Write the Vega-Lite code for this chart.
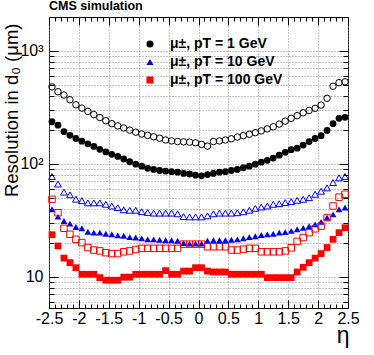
{
  "$schema": "https://vega.github.io/schema/vega-lite/v6.json",
  "width": 299,
  "height": 291,
  "autosize": {"type": "none"},
  "padding": {"left": 49, "top": 17, "right": 26, "bottom": 47},
  "background": "white",
  "title": {"text": "CMS simulation", "anchor": "start", "frame": "group", "font": "Liberation Sans", "fontSize": 12.5, "fontWeight": "bold", "color": "black", "offset": 4},
  "config": {"view": {"stroke": "black", "strokeWidth": 1}},
  "datasets": {
    "pts": [
{"s":"fc","eta":-2.45,"res":235},{"s":"fc","eta":-2.35,"res":219},{"s":"fc","eta":-2.25,"res":192},{"s":"fc","eta":-2.15,"res":178},{"s":"fc","eta":-2.05,"res":167},{"s":"fc","eta":-1.95,"res":158},{"s":"fc","eta":-1.85,"res":150},{"s":"fc","eta":-1.75,"res":142},{"s":"fc","eta":-1.65,"res":134},{"s":"fc","eta":-1.55,"res":127},{"s":"fc","eta":-1.45,"res":121},{"s":"fc","eta":-1.35,"res":116},{"s":"fc","eta":-1.25,"res":110},{"s":"fc","eta":-1.15,"res":104},{"s":"fc","eta":-1.05,"res":99},{"s":"fc","eta":-0.95,"res":95},{"s":"fc","eta":-0.85,"res":91},{"s":"fc","eta":-0.75,"res":89},{"s":"fc","eta":-0.65,"res":87},{"s":"fc","eta":-0.55,"res":86},{"s":"fc","eta":-0.45,"res":85},{"s":"fc","eta":-0.35,"res":84},{"s":"fc","eta":-0.25,"res":82},{"s":"fc","eta":-0.15,"res":81},{"s":"fc","eta":-0.05,"res":79},
{"s":"fc","eta":0.05,"res":78},{"s":"fc","eta":0.15,"res":80},{"s":"fc","eta":0.25,"res":82},{"s":"fc","eta":0.35,"res":84},{"s":"fc","eta":0.45,"res":85},{"s":"fc","eta":0.55,"res":87},{"s":"fc","eta":0.65,"res":89},{"s":"fc","eta":0.75,"res":92},{"s":"fc","eta":0.85,"res":95},{"s":"fc","eta":0.95,"res":99},{"s":"fc","eta":1.05,"res":103},{"s":"fc","eta":1.15,"res":107},{"s":"fc","eta":1.25,"res":112},{"s":"fc","eta":1.35,"res":119},{"s":"fc","eta":1.45,"res":126},{"s":"fc","eta":1.55,"res":133},{"s":"fc","eta":1.65,"res":137},{"s":"fc","eta":1.75,"res":146},{"s":"fc","eta":1.85,"res":157},{"s":"fc","eta":1.95,"res":167},{"s":"fc","eta":2.05,"res":177},{"s":"fc","eta":2.15,"res":197},{"s":"fc","eta":2.25,"res":226},{"s":"fc","eta":2.35,"res":252},{"s":"fc","eta":2.45,"res":257},
{"s":"oc","eta":-2.45,"res":478},{"s":"oc","eta":-2.35,"res":433},{"s":"oc","eta":-2.25,"res":405},{"s":"oc","eta":-2.15,"res":368},{"s":"oc","eta":-2.05,"res":332},{"s":"oc","eta":-1.95,"res":310},{"s":"oc","eta":-1.85,"res":290},{"s":"oc","eta":-1.75,"res":272},{"s":"oc","eta":-1.65,"res":256},{"s":"oc","eta":-1.55,"res":240},{"s":"oc","eta":-1.45,"res":226},{"s":"oc","eta":-1.35,"res":216},{"s":"oc","eta":-1.25,"res":207},{"s":"oc","eta":-1.15,"res":198},{"s":"oc","eta":-1.05,"res":190},{"s":"oc","eta":-0.95,"res":183},{"s":"oc","eta":-0.85,"res":178},{"s":"oc","eta":-0.75,"res":173},{"s":"oc","eta":-0.65,"res":168},{"s":"oc","eta":-0.55,"res":162},{"s":"oc","eta":-0.45,"res":159},{"s":"oc","eta":-0.35,"res":157},{"s":"oc","eta":-0.25,"res":156},{"s":"oc","eta":-0.15,"res":155},{"s":"oc","eta":-0.05,"res":153},
{"s":"oc","eta":0.05,"res":148},{"s":"oc","eta":0.15,"res":143},{"s":"oc","eta":0.25,"res":157},{"s":"oc","eta":0.35,"res":159},{"s":"oc","eta":0.45,"res":162},{"s":"oc","eta":0.55,"res":166},{"s":"oc","eta":0.65,"res":172},{"s":"oc","eta":0.75,"res":177},{"s":"oc","eta":0.85,"res":182},{"s":"oc","eta":0.95,"res":188},{"s":"oc","eta":1.05,"res":195},{"s":"oc","eta":1.15,"res":203},{"s":"oc","eta":1.25,"res":212},{"s":"oc","eta":1.35,"res":224},{"s":"oc","eta":1.45,"res":238},{"s":"oc","eta":1.55,"res":252},{"s":"oc","eta":1.65,"res":266},{"s":"oc","eta":1.75,"res":282},{"s":"oc","eta":1.85,"res":296},{"s":"oc","eta":1.95,"res":309},{"s":"oc","eta":2.05,"res":330},{"s":"oc","eta":2.15,"res":379},{"s":"oc","eta":2.25,"res":484},{"s":"oc","eta":2.35,"res":521},{"s":"oc","eta":2.45,"res":530},
{"s":"ft","eta":-2.45,"res":39.5},{"s":"ft","eta":-2.35,"res":34},{"s":"ft","eta":-2.25,"res":31.1},{"s":"ft","eta":-2.15,"res":29.5},{"s":"ft","eta":-2.05,"res":27.5},{"s":"ft","eta":-1.95,"res":26.8},{"s":"ft","eta":-1.85,"res":25},{"s":"ft","eta":-1.75,"res":24.5},{"s":"ft","eta":-1.65,"res":24.5},{"s":"ft","eta":-1.55,"res":24},{"s":"ft","eta":-1.45,"res":23.7},{"s":"ft","eta":-1.35,"res":23.2},{"s":"ft","eta":-1.25,"res":23},{"s":"ft","eta":-1.15,"res":22.4},{"s":"ft","eta":-1.05,"res":22.2},{"s":"ft","eta":-0.95,"res":21.8},{"s":"ft","eta":-0.85,"res":21.4},{"s":"ft","eta":-0.75,"res":21.4},{"s":"ft","eta":-0.65,"res":21.2},{"s":"ft","eta":-0.55,"res":21},{"s":"ft","eta":-0.45,"res":21},{"s":"ft","eta":-0.35,"res":20.8},{"s":"ft","eta":-0.25,"res":19.8},{"s":"ft","eta":-0.15,"res":19.6},{"s":"ft","eta":-0.05,"res":19.6},
{"s":"ft","eta":0.05,"res":19.6},{"s":"ft","eta":0.15,"res":20.8},{"s":"ft","eta":0.25,"res":21},{"s":"ft","eta":0.35,"res":21},{"s":"ft","eta":0.45,"res":21},{"s":"ft","eta":0.55,"res":21.2},{"s":"ft","eta":0.65,"res":21.4},{"s":"ft","eta":0.75,"res":21.9},{"s":"ft","eta":0.85,"res":22.4},{"s":"ft","eta":0.95,"res":22.8},{"s":"ft","eta":1.05,"res":23.4},{"s":"ft","eta":1.15,"res":23.7},{"s":"ft","eta":1.25,"res":24},{"s":"ft","eta":1.35,"res":24.5},{"s":"ft","eta":1.45,"res":24.8},{"s":"ft","eta":1.55,"res":25.4},{"s":"ft","eta":1.65,"res":26.3},{"s":"ft","eta":1.75,"res":27},{"s":"ft","eta":1.85,"res":28},{"s":"ft","eta":1.95,"res":29},{"s":"ft","eta":2.05,"res":30.5},{"s":"ft","eta":2.15,"res":33.3},{"s":"ft","eta":2.25,"res":35.6},{"s":"ft","eta":2.35,"res":39.5},{"s":"ft","eta":2.45,"res":40.8},
{"s":"ot","eta":-2.45,"res":77},{"s":"ot","eta":-2.35,"res":66},{"s":"ot","eta":-2.25,"res":56},{"s":"ot","eta":-2.15,"res":53},{"s":"ot","eta":-2.05,"res":48.5},{"s":"ot","eta":-1.95,"res":47},{"s":"ot","eta":-1.85,"res":45},{"s":"ot","eta":-1.75,"res":45},{"s":"ot","eta":-1.65,"res":45},{"s":"ot","eta":-1.55,"res":43.7},{"s":"ot","eta":-1.45,"res":42.2},{"s":"ot","eta":-1.35,"res":40.8},{"s":"ot","eta":-1.25,"res":39},{"s":"ot","eta":-1.15,"res":38.7},{"s":"ot","eta":-1.05,"res":38.7},{"s":"ot","eta":-0.95,"res":37.6},{"s":"ot","eta":-0.85,"res":37},{"s":"ot","eta":-0.75,"res":36.5},{"s":"ot","eta":-0.65,"res":36.5},{"s":"ot","eta":-0.55,"res":36.5},{"s":"ot","eta":-0.45,"res":36.5},{"s":"ot","eta":-0.35,"res":36},{"s":"ot","eta":-0.25,"res":34},{"s":"ot","eta":-0.15,"res":33.8},{"s":"ot","eta":-0.05,"res":33.8},
{"s":"ot","eta":0.05,"res":33.8},{"s":"ot","eta":0.15,"res":34.5},{"s":"ot","eta":0.25,"res":36},{"s":"ot","eta":0.35,"res":36.5},{"s":"ot","eta":0.45,"res":36.5},{"s":"ot","eta":0.55,"res":36.5},{"s":"ot","eta":0.65,"res":36.8},{"s":"ot","eta":0.75,"res":37.5},{"s":"ot","eta":0.85,"res":38.7},{"s":"ot","eta":0.95,"res":40.2},{"s":"ot","eta":1.05,"res":41.3},{"s":"ot","eta":1.15,"res":42.2},{"s":"ot","eta":1.25,"res":43.7},{"s":"ot","eta":1.35,"res":44.2},{"s":"ot","eta":1.45,"res":45.2},{"s":"ot","eta":1.55,"res":46.1},{"s":"ot","eta":1.65,"res":47.4},{"s":"ot","eta":1.75,"res":48.4},{"s":"ot","eta":1.85,"res":50},{"s":"ot","eta":1.95,"res":53.6},{"s":"ot","eta":2.05,"res":57},{"s":"ot","eta":2.15,"res":61},{"s":"ot","eta":2.25,"res":68},{"s":"ot","eta":2.35,"res":75},{"s":"ot","eta":2.45,"res":77},
{"s":"fs","eta":-2.45,"res":23.5},{"s":"fs","eta":-2.35,"res":18.7},{"s":"fs","eta":-2.25,"res":14.6},{"s":"fs","eta":-2.15,"res":13.3},{"s":"fs","eta":-2.05,"res":12},{"s":"fs","eta":-1.95,"res":10.5},{"s":"fs","eta":-1.85,"res":10.5},{"s":"fs","eta":-1.75,"res":10.5},{"s":"fs","eta":-1.65,"res":9.8},{"s":"fs","eta":-1.55,"res":9.3},{"s":"fs","eta":-1.45,"res":9.3},{"s":"fs","eta":-1.35,"res":9.3},{"s":"fs","eta":-1.25,"res":9.9},{"s":"fs","eta":-1.15,"res":9.9},{"s":"fs","eta":-1.05,"res":10.5},{"s":"fs","eta":-0.95,"res":10.5},{"s":"fs","eta":-0.85,"res":10.5},{"s":"fs","eta":-0.75,"res":10.5},{"s":"fs","eta":-0.65,"res":10.5},{"s":"fs","eta":-0.55,"res":11.3},{"s":"fs","eta":-0.45,"res":10.5},{"s":"fs","eta":-0.35,"res":10.5},{"s":"fs","eta":-0.25,"res":11.2},{"s":"fs","eta":-0.15,"res":11.2},{"s":"fs","eta":-0.05,"res":12},
{"s":"fs","eta":0.05,"res":12},{"s":"fs","eta":0.15,"res":11.2},{"s":"fs","eta":0.25,"res":11},{"s":"fs","eta":0.35,"res":11},{"s":"fs","eta":0.45,"res":11},{"s":"fs","eta":0.55,"res":10.5},{"s":"fs","eta":0.65,"res":10.5},{"s":"fs","eta":0.75,"res":10.5},{"s":"fs","eta":0.85,"res":10.5},{"s":"fs","eta":0.95,"res":10.5},{"s":"fs","eta":1.05,"res":10.5},{"s":"fs","eta":1.15,"res":9.8},{"s":"fs","eta":1.25,"res":9.8},{"s":"fs","eta":1.35,"res":9.8},{"s":"fs","eta":1.45,"res":9.8},{"s":"fs","eta":1.55,"res":9.8},{"s":"fs","eta":1.65,"res":11},{"s":"fs","eta":1.75,"res":12.1},{"s":"fs","eta":1.85,"res":13.3},{"s":"fs","eta":1.95,"res":14.6},{"s":"fs","eta":2.05,"res":16},{"s":"fs","eta":2.15,"res":18.1},{"s":"fs","eta":2.25,"res":21.4},{"s":"fs","eta":2.35,"res":24.5},{"s":"fs","eta":2.45,"res":27.1},
{"s":"os","eta":-2.45,"res":48.4},{"s":"os","eta":-2.35,"res":36.8},{"s":"os","eta":-2.25,"res":26.8},{"s":"os","eta":-2.15,"res":23.7},{"s":"os","eta":-2.05,"res":21.4},{"s":"os","eta":-1.95,"res":20},{"s":"os","eta":-1.85,"res":18.1},{"s":"os","eta":-1.75,"res":17.2},{"s":"os","eta":-1.65,"res":16.9},{"s":"os","eta":-1.55,"res":16.3},{"s":"os","eta":-1.45,"res":16},{"s":"os","eta":-1.35,"res":16},{"s":"os","eta":-1.25,"res":16.6},{"s":"os","eta":-1.15,"res":16.9},{"s":"os","eta":-1.05,"res":17.4},{"s":"os","eta":-0.95,"res":17.8},{"s":"os","eta":-0.85,"res":17.8},{"s":"os","eta":-0.75,"res":17.8},{"s":"os","eta":-0.65,"res":17.8},{"s":"os","eta":-0.55,"res":17.8},{"s":"os","eta":-0.45,"res":17.8},{"s":"os","eta":-0.35,"res":17.8},{"s":"os","eta":-0.25,"res":19.4},{"s":"os","eta":-0.15,"res":19.4},{"s":"os","eta":-0.05,"res":19.4},
{"s":"os","eta":0.05,"res":19.4},{"s":"os","eta":0.15,"res":18.4},{"s":"os","eta":0.25,"res":18.4},{"s":"os","eta":0.35,"res":18.4},{"s":"os","eta":0.45,"res":18.4},{"s":"os","eta":0.55,"res":17.2},{"s":"os","eta":0.65,"res":17.2},{"s":"os","eta":0.75,"res":17.5},{"s":"os","eta":0.85,"res":17.8},{"s":"os","eta":0.95,"res":17.8},{"s":"os","eta":1.05,"res":16.6},{"s":"os","eta":1.15,"res":16.6},{"s":"os","eta":1.25,"res":16.6},{"s":"os","eta":1.35,"res":16.6},{"s":"os","eta":1.45,"res":16.9},{"s":"os","eta":1.55,"res":18},{"s":"os","eta":1.65,"res":20.5},{"s":"os","eta":1.75,"res":22.2},{"s":"os","eta":1.85,"res":24.5},{"s":"os","eta":1.95,"res":26.5},{"s":"os","eta":2.05,"res":28},{"s":"os","eta":2.15,"res":33.3},{"s":"os","eta":2.25,"res":42.2},{"s":"os","eta":2.35,"res":50.5},{"s":"os","eta":2.45,"res":53.6}
    ]
  },
  "data": {"name": "pts"},
  "resolve": {"axis": {"x": "independent", "y": "independent"}},
  "layer": [
    {
      "transform": [{"filter": {"field": "s", "oneOf": ["fc", "ft", "fs"]}}],
      "mark": {"type": "point", "filled": true, "opacity": 1, "size": 46},
      "encoding": {
        "x": {"field": "eta", "type": "quantitative", "scale": {"domain": [-2.5, 2.5], "nice": false, "zero": false},
          "axis": {"orient": "bottom", "values": [-2.5, -2, -1.5, -1, -0.5, 0, 0.5, 1, 1.5, 2, 2.5], "labelExpr": "'' + datum.value", "tickSize": -8, "tickColor": "black", "grid": true, "gridDash": [1, 2], "gridColor": "#888", "domain": false, "labelFont": "Liberation Sans", "labelFontSize": 16, "labelColor": "black", "labelPadding": 10, "labelFlush": false, "labelOverlap": false, "labelBound": false, "title": "η", "titleFont": "Liberation Sans", "titleFontSize": 23, "titleFontWeight": "normal", "titleColor": "black", "titleAnchor": "end", "titleAlign": "right", "titleBaseline": "alphabetic", "titleX": 300, "titleY": 34}},
        "y": {"field": "res", "type": "quantitative", "scale": {"type": "log", "domain": [5.28, 1986], "nice": false},
          "axis": {"orient": "left", "values": [10, 100, 1000], "labelExpr": "datum.value == 10 ? '10' : datum.value == 100 ? '10²' : '10³'", "tickSize": -9, "tickColor": "black", "grid": true, "gridDash": [1, 2], "gridColor": "#888", "domain": false, "labelFont": "Liberation Sans", "labelFontSize": 16, "labelColor": "black", "labelPadding": 15, "labelOverlap": false, "title": "Resolution in d₀ (μm)", "titleFont": "Liberation Sans", "titleFontSize": 18.5, "titleFontWeight": "normal", "titleColor": "black", "titleAnchor": "end", "titlePadding": -2, "titleY": 6}},
        "color": {"field": "s", "type": "nominal", "scale": {"domain": ["fc", "ft", "fs"], "range": ["black", "blue", "red"]},
          "legend": {"orient": "none", "legendX": 94, "legendY": 20, "title": null, "padding": 0, "labelExpr": "datum.value == 'fc' ? 'μ±, pT = 1 GeV' : datum.value == 'ft' ? 'μ±, pT = 10 GeV' : 'μ±, pT = 100 GeV'", "labelFont": "Liberation Sans", "labelFontSize": 14, "labelFontWeight": "bold", "labelColor": "black", "symbolSize": 50, "rowPadding": 4, "labelOffset": 13, "symbolStrokeWidth": 0}},
        "shape": {"field": "s", "type": "nominal", "scale": {"domain": ["fc", "ft", "fs"], "range": ["circle", "triangle-up", "square"]},
          "legend": {"orient": "none", "legendX": 94, "legendY": 20, "title": null, "padding": 0, "labelExpr": "datum.value == 'fc' ? 'μ±, pT = 1 GeV' : datum.value == 'ft' ? 'μ±, pT = 10 GeV' : 'μ±, pT = 100 GeV'", "labelFont": "Liberation Sans", "labelFontSize": 14, "labelFontWeight": "bold", "labelColor": "black", "symbolSize": 50, "rowPadding": 4, "labelOffset": 13, "symbolStrokeWidth": 0}}
      }
    },
    {
      "transform": [{"filter": {"field": "s", "equal": "oc"}}],
      "mark": {"type": "point", "shape": "circle", "filled": false, "opacity": 1, "stroke": "black", "strokeWidth": 1, "size": 42},
      "encoding": {
        "x": {"field": "eta", "type": "quantitative", "scale": {"domain": [-2.5, 2.5], "nice": false, "zero": false},
          "axis": {"orient": "bottom", "values": [-2.4,-2.3,-2.2,-2.1,-1.9,-1.8,-1.7,-1.6,-1.4,-1.3,-1.2,-1.1,-0.9,-0.8,-0.7,-0.6,-0.4,-0.3,-0.2,-0.1,0.1,0.2,0.3,0.4,0.6,0.7,0.8,0.9,1.1,1.2,1.3,1.4,1.6,1.7,1.8,1.9,2.1,2.2,2.3,2.4], "labels": false, "tickSize": -4, "tickColor": "black", "grid": false, "domain": false, "title": null}},
        "y": {"field": "res", "type": "quantitative", "scale": {"type": "log", "domain": [5.28, 1986], "nice": false},
          "axis": {"orient": "left", "values": [6,7,8,9,20,30,40,50,60,70,80,90,200,300,400,500,600,700,800,900], "labels": false, "tickSize": -5, "tickColor": "black", "grid": true, "gridDash": [1, 2], "gridColor": "#888", "domain": false, "title": null}}
      }
    },
    {
      "transform": [{"filter": {"field": "s", "equal": "ot"}}],
      "mark": {"type": "point", "shape": "triangle-up", "filled": false, "opacity": 1, "stroke": "blue", "strokeWidth": 1, "size": 46},
      "encoding": {
        "x": {"field": "eta", "type": "quantitative", "scale": {"domain": [-2.5, 2.5], "nice": false, "zero": false},
          "axis": {"orient": "top", "values": [-2.5, -2, -1.5, -1, -0.5, 0, 0.5, 1, 1.5, 2, 2.5], "labels": false, "tickSize": -8, "tickColor": "black", "grid": false, "domain": false, "title": null}},
        "y": {"field": "res", "type": "quantitative", "scale": {"type": "log", "domain": [5.28, 1986], "nice": false},
          "axis": {"orient": "right", "values": [10, 100, 1000], "labels": false, "tickSize": -9, "tickColor": "black", "grid": false, "domain": false, "title": null}}
      }
    },
    {
      "transform": [{"filter": {"field": "s", "equal": "os"}}],
      "mark": {"type": "point", "shape": "square", "filled": false, "opacity": 1, "stroke": "red", "strokeWidth": 1, "size": 42},
      "encoding": {
        "x": {"field": "eta", "type": "quantitative", "scale": {"domain": [-2.5, 2.5], "nice": false, "zero": false},
          "axis": {"orient": "top", "values": [-2.4,-2.3,-2.2,-2.1,-1.9,-1.8,-1.7,-1.6,-1.4,-1.3,-1.2,-1.1,-0.9,-0.8,-0.7,-0.6,-0.4,-0.3,-0.2,-0.1,0.1,0.2,0.3,0.4,0.6,0.7,0.8,0.9,1.1,1.2,1.3,1.4,1.6,1.7,1.8,1.9,2.1,2.2,2.3,2.4], "labels": false, "tickSize": -4, "tickColor": "black", "grid": false, "domain": false, "title": null}},
        "y": {"field": "res", "type": "quantitative", "scale": {"type": "log", "domain": [5.28, 1986], "nice": false},
          "axis": {"orient": "right", "values": [6,7,8,9,20,30,40,50,60,70,80,90,200,300,400,500,600,700,800,900], "labels": false, "tickSize": -5, "tickColor": "black", "grid": false, "domain": false, "title": null}}
      }
    }
  ]
}
